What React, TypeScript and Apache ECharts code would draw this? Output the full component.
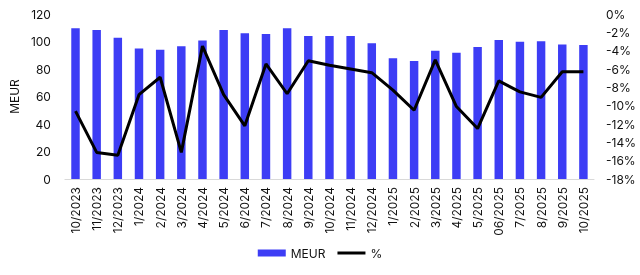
import React, { useEffect, useRef } from "react";
import * as echarts from "echarts";

const categories = [
  "10/2023", "11/2023", "12/2023", "1/2024", "2/2024", "3/2024", "4/2024", "5/2024",
  "6/2024", "7/2024", "8/2024", "9/2024", "10/2024", "11/2024", "12/2024", "1/2025",
  "2/2025", "3/2025", "4/2025", "5/2025", "06/2025", "7/2025", "8/2025", "9/2025", "10/2025",
];
const meurValues = [
  109.6, 108.4, 102.8, 95, 94, 96.5, 100.8, 108.4, 106, 105.5, 109.6, 104,
  104, 104, 98.7, 87.8, 85.8, 93.3, 91.9, 96, 101.1, 99.9, 100.1, 97.9, 97.5,
];
const pctValues = [
  -10.6, -15.1, -15.4, -8.8, -6.9, -15.1, -3.5, -8.8, -12.2, -5.45, -8.7, -5.1,
  -5.6, -6.0, -6.4, -8.3, -10.5, -5.0, -10.1, -12.5, -7.3, -8.5, -9.1, -6.3, -6.3,
];

const FONT = "Inter, 'Liberation Sans', Arial, sans-serif";

export default function App() {
  const ref = useRef<HTMLDivElement>(null);
  useEffect(() => {
    if (!ref.current) return;
    const chart = echarts.init(ref.current, null, { renderer: "svg" });
    chart.setOption({
      animation: false,
      textStyle: { fontFamily: FONT, color: "#111" },
      grid: { left: 58, right: 46, top: 14, bottom: 96 },
      legend: {
        bottom: 11,
        left: "center",
        itemWidth: 28,
        itemHeight: 7,
        itemGap: 12,
        textStyle: { fontFamily: FONT, fontSize: 12, color: "#111" },
        data: [
          { name: "MEUR", icon: "rect" },
          { name: "%", icon: "path://M0 0 H28 V3 H0 Z" },
        ],
      },
      xAxis: {
        type: "category",
        data: categories,
        axisLine: { lineStyle: { color: "#d9d9d9" } },
        axisTick: { show: false },
        axisLabel: { rotate: 90, fontSize: 12, color: "#111", fontFamily: FONT, margin: 8 },
      },
      yAxis: [
        {
          type: "value",
          min: 0,
          max: 120,
          interval: 20,
          name: "MEUR",
          nameLocation: "middle",
          nameRotate: 90,
          nameGap: 40,
          nameTextStyle: { fontSize: 12, color: "#111", fontFamily: FONT },
          splitLine: { show: false },
          axisLine: { show: false },
          axisTick: { show: false },
          axisLabel: { fontSize: 12, color: "#111", fontFamily: FONT, margin: 14 },
        },
        {
          type: "value",
          min: -18,
          max: 0,
          interval: 2,
          splitLine: { show: false },
          axisLine: { show: false },
          axisTick: { show: false },
          axisLabel: { fontSize: 12, color: "#111", fontFamily: FONT, margin: 12, formatter: "{value}%" },
        },
      ],
      series: [
        {
          name: "MEUR",
          type: "bar",
          data: meurValues,
          barWidth: "40%",
          itemStyle: { color: "#3d3df5" },
        },
        {
          name: "%",
          type: "line",
          yAxisIndex: 1,
          data: pctValues,
          symbol: "none",
          lineStyle: { color: "#000", width: 3 },
          itemStyle: { color: "#000" },
        },
      ],
    });
    return () => chart.dispose();
  }, []);
  return (
    <div
      ref={ref}
      style={{ position: "fixed", left: 0, top: 0, width: 640, height: 275 }}
    />
  );
}
